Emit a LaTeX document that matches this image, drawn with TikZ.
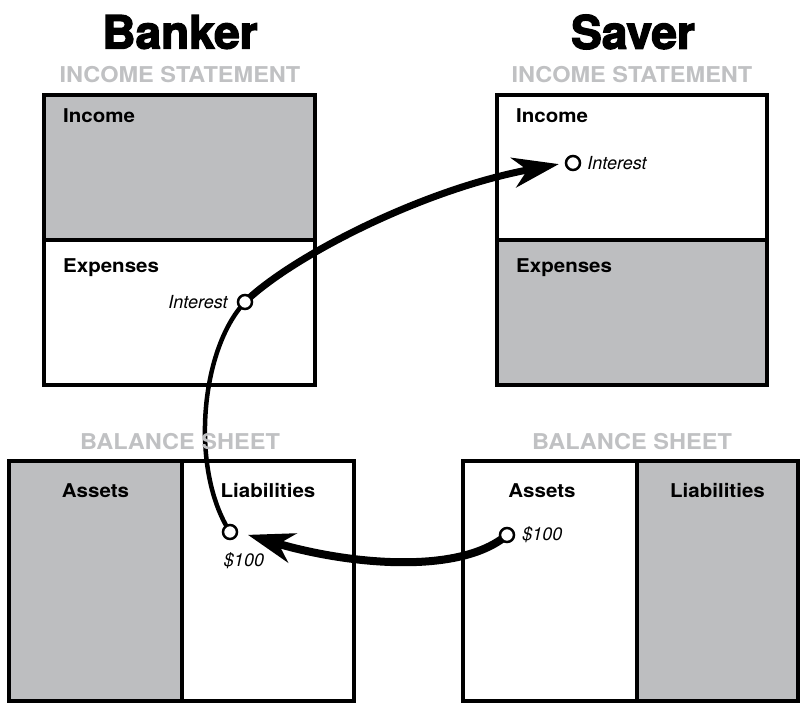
\documentclass[tikz,border=0pt]{standalone}
\usepackage{fontspec}
\setmainfont{TeX Gyre Heros}
\newfontfamily\heavyfont{TeX Gyre Heros}[BoldFeatures={FakeBold=3}]
\newfontfamily\widefont{TeX Gyre Heros}[FakeStretch=1.08]
\usetikzlibrary{positioning,arrows.meta}
\definecolor{panelgray}{RGB}{189,190,192}
\definecolor{headgray}{RGB}{192,193,195}
\pgfdeclarelayer{back}
\pgfdeclarelayer{mid}
\pgfsetlayers{back,mid,main}

\tikzset{
    panel/.style = {draw, line width = 3.5pt, inner sep = 0pt, outer sep = 0pt, anchor = north west},
    shaded/.style = {fill = panelgray},
    owner/.style = {font = \heavyfont\bfseries\fontsize{46}{46}\selectfont},
    sheet/.style = {text = headgray, font = \widefont\bfseries\fontsize{21.8}{21.8}\selectfont},
    entry/.style = {font = \widefont\bfseries\fontsize{19}{19}\selectfont, inner sep = 0pt},
    amount/.style = {font = \itshape\fontsize{18}{18}\selectfont, inner sep = 0pt},
    dot/.style = {circle, draw, fill = white, line width = 2.5pt, minimum size = 14pt, inner sep = 0pt},
    flow/.style = {line width = 7pt, line cap = round},
    bigtip/.style = {-{Stealth[length = 46pt, width = 30pt, inset = 14pt]}}
}

\begin{document}
\begin{tikzpicture}[x = 1pt, y = -1pt]
\useasboundingbox (0,0) rectangle (800,703);

% titles
\node[owner] (bankTitle) at (180,32) {Banker};
\node[owner] (savTitle) at (633,32) {Saver};
\node[sheet] (bankIS) at (180,75) {INCOME STATEMENT};
\node[sheet] (savIS) at (632,75) {INCOME STATEMENT};
\node[sheet] (bankBS) at (180,442) {BALANCE SHEET};
\node[sheet] (savBS) at (632,442) {BALANCE SHEET};

% panels
\begin{pgfonlayer}{back}
\node[panel, shaded, minimum width = 271pt, minimum height = 145pt] (bankInc) at (44,95) {};
\node[panel, minimum width = 271pt, minimum height = 145pt] (bankExp) [below = 0pt of bankInc] {};
\node[panel, minimum width = 270pt, minimum height = 145pt] (savInc) at (497,95) {};
\node[panel, shaded, minimum width = 270pt, minimum height = 145pt] (savExp) [below = 0pt of savInc] {};
\node[panel, shaded, minimum width = 173pt, minimum height = 240pt] (bankAssets) at (9,461) {};
\node[panel, minimum width = 172pt, minimum height = 240pt] (bankLiab) [right = 0pt of bankAssets] {};
\node[panel, minimum width = 174pt, minimum height = 240pt] (savAssets) at (463,461) {};
\node[panel, shaded, minimum width = 161pt, minimum height = 240pt] (savLiab) [right = 0pt of savAssets] {};
\end{pgfonlayer}

% panel headings
\node[entry, anchor = north west] (bankIncText) [below right = 13pt and 19pt of bankInc.north west] {Income};
\node[entry, anchor = north west] (bankExpText) [below right = 18pt and 19pt of bankExp.north west] {Expenses};
\node[entry, anchor = north west] (savIncText) [below right = 13pt and 19pt of savInc.north west] {Income};
\node[entry, anchor = north west] (savExpText) [below right = 18pt and 19pt of savExp.north west] {Expenses};
\node[entry] (bankAssetsText) [below = 22pt of bankAssets.north] {Assets};
\node[entry] (bankLiabText) [below = 22pt of bankLiab.north] {Liabilities};
\node[entry] (savAssetsText) [below = 22pt of savAssets.north, xshift = -8pt] {Assets};
\node[entry] (savLiabText) [below = 22pt of savLiab.north] {Liabilities};

% dots
\node[dot] (bankIntDot) at (245,302) {};
\node[dot] (savIncDot) at (573,163) {};
\node[dot] (bankLiabDot) at (230,532) {};
\node[dot] (savAssetDot) at (507,535) {};
\node[amount] (bankIntText) [left = 9pt of bankIntDot] {Interest};
\node[amount] (savIntText) [right = 6pt of savIncDot] {Interest};
\node[amount] (bankLiabText) [below = 12pt of bankLiabDot, xshift = 14pt] {\$100};
\node[amount] (savAssetText) [right = 7pt of savAssetDot] {\$100};

% flows
\begin{pgfonlayer}{mid}
\draw[flow, line width = 4.5pt] (bankLiabDot.center) .. controls (190,470) and (200,350) .. (bankIntDot.center);
\draw[flow, bigtip, shorten >= 6pt] (bankIntDot.center) .. controls (290,258) and (420,190) .. (savIncDot.west);
\draw[flow, line width = 8pt, bigtip, shorten >= 10pt] (savAssetDot.center) .. controls (460,575) and (350,565) .. (bankLiabDot.east);
\end{pgfonlayer}

\end{tikzpicture}
\end{document}
